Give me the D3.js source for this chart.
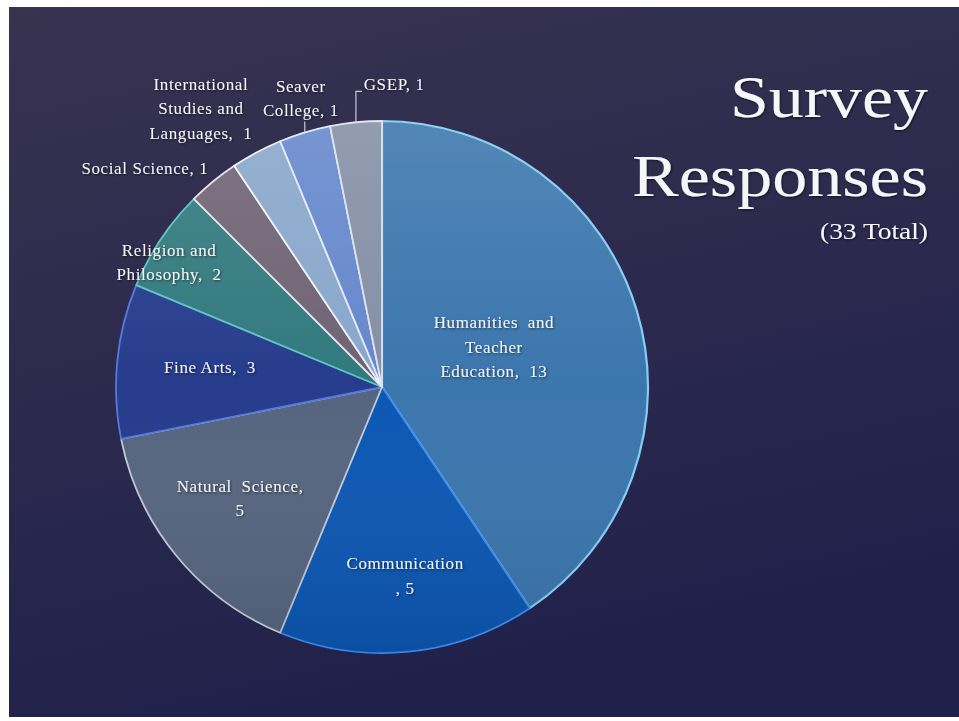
<!DOCTYPE html>
<html>
<head>
<meta charset="utf-8">
<script src="https://cdn.jsdelivr.net/npm/d3@7"></script>
<style>
  html, body { margin: 0; padding: 0; background: #fff; }
  svg { display: block; }
  .lbl { font-family: "Liberation Serif", serif; font-size: 17px; fill: #f4f4f8; letter-spacing: 0.6px; white-space: pre; }
  .title { font-family: "Liberation Serif", serif; fill: #f6f6f8; }
</style>
</head>
<body>
<svg id="canvas" width="959" height="721"></svg>
<script>
// survey data
const categories = ["Humanities and Teacher Education", "Communication", "Natural Science", "Fine Arts",
  "Religion and Philosophy", "Social Science", "International Studies and Languages", "Seaver College", "GSEP"];
const responses = [13, 5, 5, 3, 2, 1, 1, 1, 1];
const totalLabel = "(33 Total)";

const sliceColors = ["#3b76ad", "#0c57b3", "#56657f", "#263c8c", "#31797d", "#6f6274", "#88a7cb", "#6587cc", "#848fa5"];
const sliceEdges = ["#86cdf2", "#3a8cf2", "#c3c8d6", "#5478de", "#5cc3c3", "#eadfea", "#eef3fb", "#e2eaff", "#dde2ec"];

// label layout: lines (# = value), radius factor, angle in degrees
const labelLayout = [
  {lines: ["Humanities  and", "Teacher", "Education,  #"], r: 0.447, a: 70.3},
  {lines: ["Communication", ", #"], r: 0.714, a: 173.0},
  {lines: ["Natural  Science,", "#"], r: 0.677, a: 232.0},
  {lines: ["Fine Arts,  #"], r: 0.651, a: 276.6},
  {lines: ["Religion and", "Philosophy,  #"], r: 0.928, a: 300.4},
  {lines: ["Social Science, #"], r: 1.213, a: 312.7},
  {lines: ["International", "Studies and", "Languages,  #"], r: 1.25, a: 327.0},
  {lines: ["Seaver", "College, #"], r: 1.128, a: 344.3, leader: [11, 0]},
  {lines: ["GSEP, #"], r: 1.14, a: 2.3, leader: [31, 6]}
];

const cx = 382, cy = 387, R = 266;

let canvas = d3.select("#canvas");
let defs = canvas.append("defs");

let bg = defs.append("linearGradient").attr("id", "bg")
  .attr("x1", 0).attr("y1", 0).attr("x2", 0.3).attr("y2", 1);
bg.append("stop").attr("offset", "0%").attr("stop-color", "#38334f");
bg.append("stop").attr("offset", "50%").attr("stop-color", "#2d2a4e");
bg.append("stop").attr("offset", "100%").attr("stop-color", "#20214b");

let shade = defs.append("linearGradient").attr("id", "shade")
  .attr("x1", 0).attr("y1", 0).attr("x2", 0).attr("y2", 1);
shade.append("stop").attr("offset", "0%").attr("stop-color", "#fff").attr("stop-opacity", 0.12);
shade.append("stop").attr("offset", "50%").attr("stop-color", "#fff").attr("stop-opacity", 0);
shade.append("stop").attr("offset", "100%").attr("stop-color", "#000").attr("stop-opacity", 0.1);

let shadow = defs.append("filter").attr("id", "shadow")
  .attr("x", "-10%").attr("y", "-20%").attr("width", "130%").attr("height", "160%");
shadow.append("feDropShadow").attr("dx", 1).attr("dy", 1.2).attr("stdDeviation", 0.8)
  .attr("flood-color", "#000").attr("flood-opacity", 0.55);

canvas.append("rect")
  .attr("x", 9).attr("y", 7).attr("width", 950).attr("height", 710)
  .attr("fill", "url(#bg)");

let pie = d3.pie().sort(null).value(d => d);
let arcs = pie(responses);
let arc = d3.arc().innerRadius(0).outerRadius(R);

let g = canvas.append("g").attr("transform", `translate(${cx},${cy})`);

g.selectAll("path.slice")
  .data(arcs)
  .enter()
  .append("path")
  .attr("class", "slice")
  .attr("d", arc)
  .attr("fill", (d, i) => sliceColors[i])
  .attr("stroke", (d, i) => sliceEdges[i])
  .attr("stroke-width", (d, i) => i === 0 ? 2.2 : 1.8)
  .attr("stroke-linejoin", "round");

g.append("circle").attr("r", R).attr("fill", "url(#shade)").attr("pointer-events", "none");

let polar = (rr, deg) => {
  let t = deg * Math.PI / 180;
  return [Math.sin(t) * rr, -Math.cos(t) * rr];
};

// leader lines for the small outer labels
arcs.forEach((d, i) => {
  let lay = labelLayout[i];
  if (!lay.leader) return;
  let mid = (d.startAngle + d.endAngle) / 2 * 180 / Math.PI;
  let p = polar(R, mid);
  let pts = [p, [p[0], p[1] - lay.leader[0]], [p[0] + lay.leader[1], p[1] - lay.leader[0]]];
  g.append("path")
    .attr("d", d3.line()(pts))
    .attr("fill", "none")
    .attr("stroke", "#c9cbd6")
    .attr("stroke-width", 1.2);
});

let lineH = 24.5;
g.selectAll("text.lbl")
  .data(arcs)
  .enter()
  .append("text")
  .attr("class", "lbl")
  .attr("text-anchor", "middle")
  .attr("filter", "url(#shadow)")
  .each(function (d, i) {
    let lay = labelLayout[i];
    let pos = polar(lay.r * R, lay.a);
    let n = lay.lines.length;
    let top = pos[1] - (n - 1) * lineH / 2 + 6;
    d3.select(this).selectAll("tspan")
      .data(lay.lines)
      .enter()
      .append("tspan")
      .attr("x", pos[0])
      .attr("y", (t, k) => top + k * lineH)
      .text(t => t.replace("#", d.data));
  });

// title
let title = canvas.append("g").attr("filter", "url(#shadow)");
title.append("text").attr("class", "title")
  .attr("x", 928).attr("y", 117).attr("text-anchor", "end")
  .attr("font-size", 60).attr("textLength", 198).attr("lengthAdjust", "spacingAndGlyphs")
  .text("Survey");
title.append("text").attr("class", "title")
  .attr("x", 928).attr("y", 196).attr("text-anchor", "end")
  .attr("font-size", 60).attr("textLength", 296).attr("lengthAdjust", "spacingAndGlyphs")
  .text("Responses");
title.append("text").attr("class", "title")
  .attr("x", 928).attr("y", 239).attr("text-anchor", "end")
  .attr("font-size", 23).attr("textLength", 108).attr("lengthAdjust", "spacingAndGlyphs")
  .text(totalLabel);
</script>
</body>
</html>
